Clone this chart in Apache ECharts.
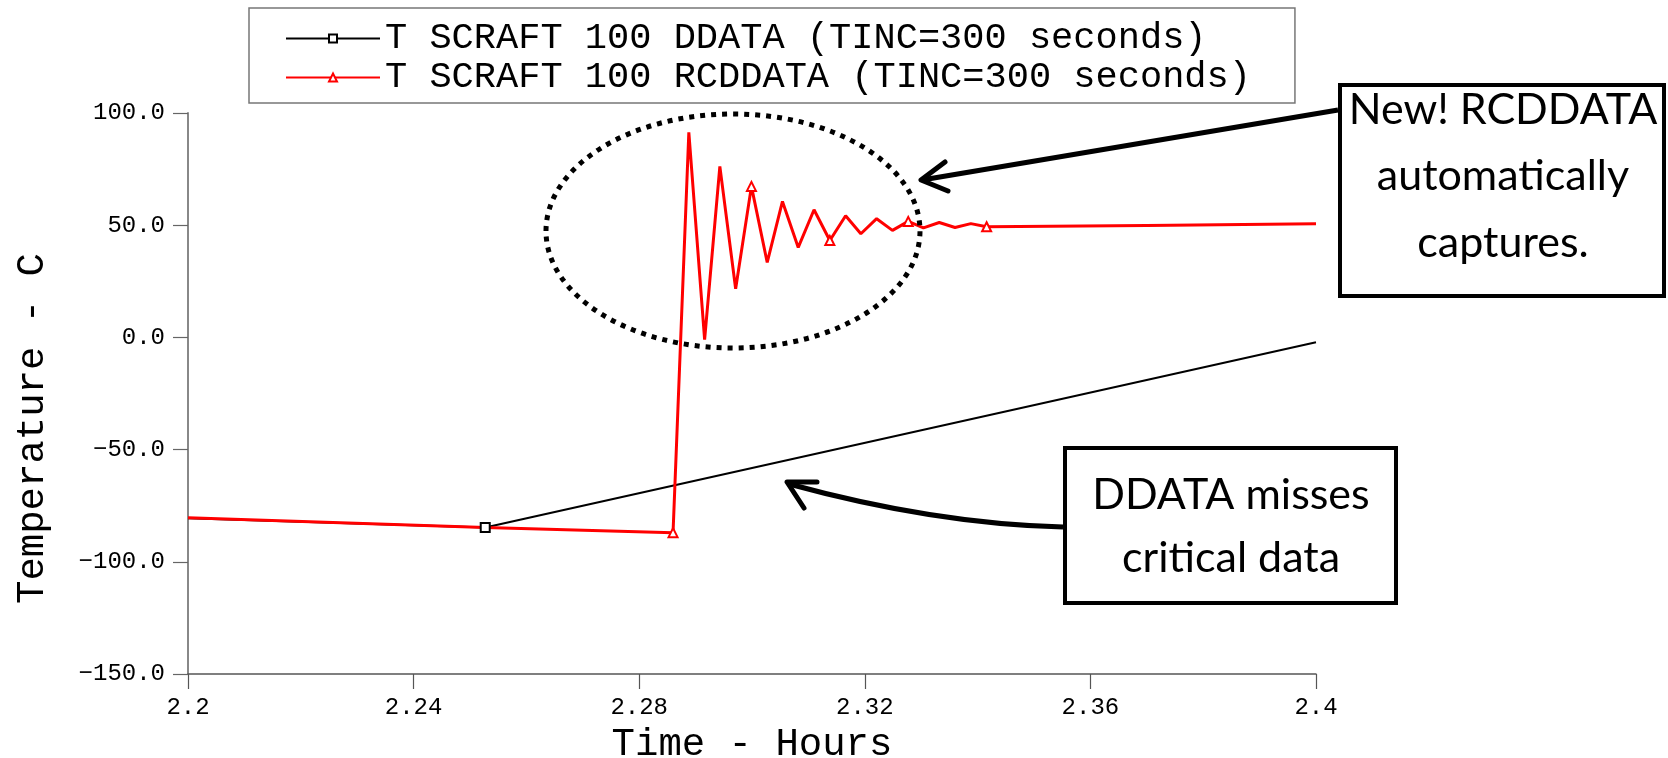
<!DOCTYPE html>
<html>
<head>
<meta charset="utf-8">
<script src="https://cdn.jsdelivr.net/npm/echarts@6/dist/echarts.min.js"></script>
<style>
  html, body { margin: 0; padding: 0; background: #fff; }
  #chart { width: 1668px; height: 758px; }
</style>
</head>
<body>
<div id="chart"></div>
<script>
// series names
const ddataName = 'T SCRAFT 100 DDATA (TINC=300 seconds)'
const rcdName = 'T SCRAFT 100 RCDDATA (TINC=300 seconds)'

// DDATA samples (hours, deg C)
const ddataTime = [2.2, 2.2527, 2.4]
const ddataTemp = [-80.6, -84.7, -2.2]
const ddataMarked = [1]

// RCDDATA samples (hours, deg C)
const rcdTime = [2.2, 2.2527,
  2.2860, 2.2888, 2.2916, 2.2943, 2.2971, 2.2999, 2.3027, 2.3054, 2.3082, 2.3110,
  2.3138, 2.3166, 2.3193, 2.3221, 2.3249, 2.3277, 2.3304, 2.3332, 2.3360, 2.3388,
  2.3416, 2.37, 2.4]
const rcdTemp = [-80.4, -84.7,
  -87.0, 91.4, -1.0, 76.2, 21.7, 67.3, 33.4, 60.6, 40.1, 56.9,
  43.2, 54.2, 46.2, 52.9, 47.7, 51.7, 48.8, 51.2, 49.0, 50.7,
  49.3, 49.9, 50.6]
const rcdMarked = [2, 7, 12, 17, 22]

// axis ticks
const xTicks = [2.2, 2.24, 2.28, 2.32, 2.36, 2.4]
const yTicks = [-150, -100, -50, 0, 50, 100]

const serif = 'Liberation Mono'
const sans = 'Lato'

const toPoints = (times, temps, marked) =>
  times.map((t, i) => marked.includes(i)
    ? { value: [t, temps[i]] }
    : { value: [t, temps[i]], symbol: 'none' })

const chart = echarts.init(document.getElementById('chart'))

const label = (text, x, y) => ({
  type: 'text',
  z: 110,
  style: {
    text: text, x: x, y: y,
    fill: '#000',
    font: '43px ' + sans,
    textAlign: 'center', textVerticalAlign: 'middle',
    align: 'center', verticalAlign: 'middle'
  }
})

const options = {
  animation: false,
  backgroundColor: '#fff',
  grid: { left: 188, right: 352, top: 113, bottom: 84, containLabel: false, outerBoundsMode: 'none' },
  legend: {
    orient: 'vertical',
    left: 249,
    top: 8,
    padding: [12, 44, 7, 36],
    itemGap: 2,
    itemWidth: 94,
    itemHeight: 10,
    borderColor: '#777',
    borderWidth: 1.5,
    textStyle: { fontFamily: serif, fontSize: 37, color: '#000', lineHeight: 32 },
    data: [ddataName, rcdName]
  },
  xAxis: {
    type: 'value',
    min: xTicks[0],
    max: xTicks[xTicks.length - 1],
    interval: 0.04,
    name: 'Time - Hours',
    nameLocation: 'middle',
    nameGap: 51,
    nameTextStyle: { fontFamily: serif, fontSize: 39, color: '#000' },
    splitLine: { show: false },
    axisLine: { onZero: false, lineStyle: { color: '#555', width: 1.5 } },
    axisTick: { length: 15, lineStyle: { color: '#555', width: 1.2 } },
    axisLabel: {
      margin: 22,
      fontFamily: serif, fontSize: 24, color: '#000',
      formatter: (v) => String(+v.toFixed(2))
    }
  },
  yAxis: {
    type: 'value',
    min: yTicks[0],
    max: yTicks[yTicks.length - 1],
    interval: 50,
    name: 'Temperature - C',
    nameLocation: 'middle',
    nameGap: 136,
    nameTextStyle: { fontFamily: serif, fontSize: 39, color: '#000', padding: [0, 70, 0, 0] },
    splitLine: { show: false },
    axisLine: { show: true, lineStyle: { color: '#888', width: 2 } },
    axisTick: { show: true, length: 15, lineStyle: { color: '#666', width: 1.2 } },
    axisLabel: {
      margin: 23,
      fontFamily: serif, fontSize: 24, color: '#000',
      formatter: (v) => (v < 0 ? '\u2212' : '') + Math.abs(v).toFixed(1)
    }
  },
  series: [
    {
      name: ddataName,
      type: 'line',
      symbol: 'emptyRect',
      symbolSize: 9,
      showAllSymbol: true,
      color: '#000',
      lineStyle: { color: '#000', width: 2 },
      itemStyle: { color: '#000', borderColor: '#000', borderWidth: 1 },
      data: toPoints(ddataTime, ddataTemp, ddataMarked)
    },
    {
      name: rcdName,
      type: 'line',
      symbol: 'emptyTriangle',
      symbolSize: 9,
      showAllSymbol: true,
      color: '#ff0000',
      lineStyle: { color: '#ff0000', width: 3 },
      itemStyle: { color: '#ff0000', borderColor: '#ff0000', borderWidth: 1 },
      data: toPoints(rcdTime, rcdTemp, rcdMarked)
    }
  ],
  graphic: [
    // dotted ring round the ringing
    {
      type: 'ellipse', z: 100,
      shape: { cx: 733, cy: 231, rx: 187, ry: 117 },
      style: { fill: null, stroke: '#000', lineWidth: 5, lineDash: [5, 6] }
    },
    // note 1
    {
      type: 'rect', z: 100,
      shape: { x: 1340, y: 85, width: 324, height: 211 },
      style: { fill: '#fff', stroke: '#000', lineWidth: 4 }
    },
    label('New! RCDDATA', 1503, 110),
    label('automatically', 1503, 176),
    label('captures.', 1503, 243),
    {
      type: 'polyline', z: 100,
      shape: { points: [[1338, 110], [922, 180]] },
      style: { stroke: '#000', lineWidth: 5, fill: null }
    },
    {
      type: 'polyline', z: 100,
      shape: { points: [[945, 162], [921, 180], [948, 191]] },
      style: { stroke: '#000', lineWidth: 5, fill: null, lineCap: 'round', lineJoin: 'round' }
    },
    // note 2
    {
      type: 'rect', z: 100,
      shape: { x: 1065, y: 448, width: 331, height: 155 },
      style: { fill: '#fff', stroke: '#000', lineWidth: 4 }
    },
    label('DDATA misses', 1231, 495),
    label('critical data', 1231, 558),
    {
      type: 'bezierCurve', z: 100,
      shape: { x1: 1063, y1: 527, x2: 789, y2: 484, cpx1: 935, cpy1: 524 },
      style: { stroke: '#000', lineWidth: 5, fill: null }
    },
    {
      type: 'polyline', z: 100,
      shape: { points: [[817, 482], [787, 482], [804, 508]] },
      style: { stroke: '#000', lineWidth: 5, fill: null, lineCap: 'round', lineJoin: 'round' }
    }
  ]
}

chart.setOption(options)
</script>
</body>
</html>
